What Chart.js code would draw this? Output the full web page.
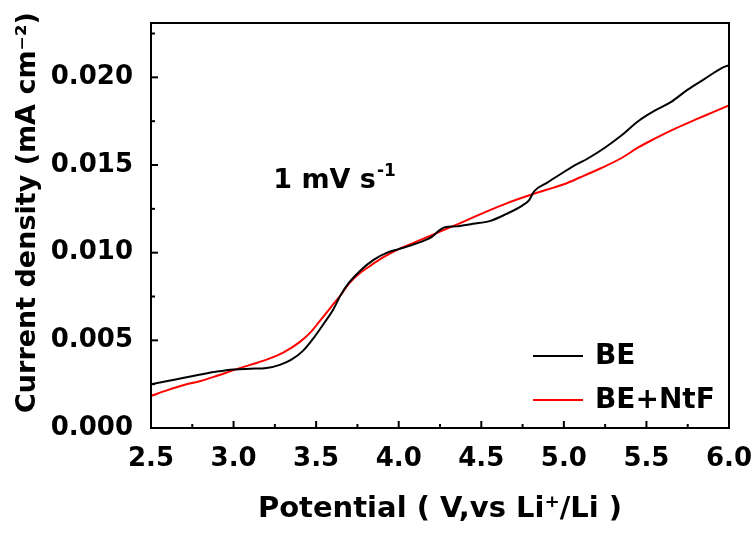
<!DOCTYPE html>
<html>
<head>
<meta charset="utf-8">
<script src="https://cdn.jsdelivr.net/npm/chart.js@4/dist/chart.umd.min.js"></script>
<style>
  html, body { margin: 0; padding: 0; background: #fff; }
  #wrap { width: 755px; height: 535px; }
</style>
</head>
<body>
<div id="wrap"><canvas id="myChart" width="755" height="535"></canvas></div>
<script>
// Data
const potentialBE = [2.5, 2.6, 2.7, 2.8, 2.9, 3.0, 3.1, 3.2, 3.28, 3.35, 3.42, 3.49, 3.55, 3.6, 3.65, 3.7, 3.77, 3.85, 3.93, 4.0, 4.1, 4.2, 4.25, 4.28, 4.35, 4.45, 4.55, 4.65, 4.75, 4.79, 4.82, 4.9, 5.0, 5.05, 5.15, 5.25, 5.35, 5.45, 5.55, 5.65, 5.75, 5.85, 5.95, 6.0];
const currentBE = [0.00249, 0.00268, 0.00287, 0.00305, 0.00322, 0.00334, 0.00338, 0.00342, 0.0036, 0.0039, 0.0044, 0.0052, 0.0060, 0.0067, 0.0076, 0.0083, 0.0090, 0.0096, 0.0100, 0.0102, 0.0105, 0.0109, 0.0113, 0.01145, 0.0115, 0.01165, 0.0118, 0.0122, 0.0127, 0.0130, 0.0135, 0.0140, 0.0146, 0.0149, 0.0154, 0.0160, 0.0167, 0.0175, 0.0181, 0.0186, 0.0193, 0.0199, 0.0205, 0.0207];

const potentialNtF = [2.5, 2.6, 2.7, 2.8, 2.9, 3.0, 3.1, 3.2, 3.3, 3.4, 3.47, 3.53, 3.59, 3.65, 3.7, 3.76, 3.82, 3.9, 4.0, 4.1, 4.2, 4.3, 4.4, 4.52, 4.65, 4.8, 4.9, 5.0, 5.1, 5.22, 5.35, 5.45, 5.55, 5.68, 5.8, 5.9, 6.0];
const currentNtF = [0.00183, 0.00216, 0.00245, 0.00268, 0.00298, 0.0033, 0.0036, 0.0039, 0.0043, 0.0049, 0.0055, 0.0062, 0.0069, 0.0076, 0.00825, 0.0088, 0.0092, 0.0097, 0.0102, 0.0106, 0.0110, 0.0114, 0.0118, 0.0123, 0.0128, 0.0133, 0.0136, 0.0139, 0.0143, 0.0148, 0.0154, 0.0160, 0.0165, 0.0171, 0.0176, 0.0180, 0.0184];

const seriesLabels = ['BE', 'BE+NtF'];
const seriesColors = ['#000000', '#ff0000'];

const xTicks = [2.5, 3.0, 3.5, 4.0, 4.5, 5.0, 5.5, 6.0];
const yTicks = [0.000, 0.005, 0.010, 0.015, 0.020];

const yTitle = 'Current density (mA cm\u207B\u00B2)';
const xTitle = 'Potential ( V,vs Li\u207A/Li )';

const FONT = 'DejaVu Sans';

function toPoints(xs, ys) {
  return xs.map(function (x, i) { return { x: x, y: ys[i] }; });
}

// Frame, inward major/minor ticks, legend, y title and rate note
const decorPlugin = {
  id: 'decor',
  afterDraw: function (chart) {
    const ctx = chart.ctx;
    const area = chart.chartArea;
    const xs = chart.scales.x;
    const ys = chart.scales.y;
    ctx.save();
    ctx.strokeStyle = '#000';
    ctx.lineWidth = 2;

    // x ticks
    for (let i = 0; i < xTicks.length; i++) {
      const px = xs.getPixelForValue(xTicks[i]);
      ctx.beginPath();
      ctx.moveTo(px, area.bottom);
      ctx.lineTo(px, area.bottom - 7);
      ctx.stroke();
      if (i < xTicks.length - 1) {
        const mx = xs.getPixelForValue((xTicks[i] + xTicks[i + 1]) / 2);
        ctx.beginPath();
        ctx.moveTo(mx, area.bottom);
        ctx.lineTo(mx, area.bottom - 4);
        ctx.stroke();
      }
    }
    // y ticks
    for (let i = 0; i < yTicks.length; i++) {
      const py = ys.getPixelForValue(yTicks[i]);
      ctx.beginPath();
      ctx.moveTo(area.left, py);
      ctx.lineTo(area.left + 7, py);
      ctx.stroke();
      const my = ys.getPixelForValue(yTicks[i] + 0.0025);
      ctx.beginPath();
      ctx.moveTo(area.left, my);
      ctx.lineTo(area.left + 4, my);
      ctx.stroke();
    }

    // frame
    ctx.strokeRect(area.left, area.top, area.right - area.left, area.bottom - area.top);

    // legend
    ctx.font = 'bold 28px ' + FONT;
    ctx.textBaseline = 'middle';
    ctx.textAlign = 'left';
    chart.data.datasets.forEach(function (ds, i) {
      const ly = area.bottom - 72 + i * 44;
      ctx.strokeStyle = ds.borderColor;
      ctx.lineWidth = 2;
      ctx.beginPath();
      ctx.moveTo(area.right - 196, ly);
      ctx.lineTo(area.right - 146, ly);
      ctx.stroke();
      ctx.fillStyle = '#000';
      ctx.fillText(ds.label, area.right - 134, ly + 1);
    });

    // y title (sits a bit above the axis middle, as in the source)
    ctx.save();
    ctx.translate(28, (area.top + area.bottom) / 2 - 13);
    ctx.rotate(-Math.PI / 2);
    ctx.textAlign = 'center';
    ctx.font = 'bold 27px ' + FONT;
    ctx.fillText(yTitle, 0, 0);
    ctx.restore();

    // scan rate note
    ctx.textBaseline = 'alphabetic';
    const nx = xs.getPixelForValue(3.24);
    const ny = ys.getPixelForValue(0.0137);
    ctx.font = 'bold 27px ' + FONT;
    ctx.fillText('1 mV s', nx, ny);
    const w = ctx.measureText('1 mV s').width;
    ctx.font = 'bold 17px ' + FONT;
    ctx.fillText('-1', nx + w + 1, ny - 12);
    ctx.restore();
  }
};

const ctx = document.getElementById('myChart').getContext('2d');

const chart = new Chart(ctx, {
  type: 'line',
  data: {
    datasets: [{
      label: seriesLabels[0],
      data: toPoints(potentialBE, currentBE),
      borderColor: seriesColors[0],
      backgroundColor: seriesColors[0],
      borderWidth: 2,
      pointRadius: 0,
      cubicInterpolationMode: 'monotone'
    },
    {
      label: seriesLabels[1],
      data: toPoints(potentialNtF, currentNtF),
      borderColor: seriesColors[1],
      backgroundColor: seriesColors[1],
      borderWidth: 2,
      pointRadius: 0,
      cubicInterpolationMode: 'monotone'
    }]
  },
  options: {
    responsive: false,
    animation: false,
    layout: { padding: { top: 23, right: 26, left: 0, bottom: 0 } },
    plugins: {
      legend: { display: false },
      tooltip: { enabled: false }
    },
    scales: {
      x: {
        type: 'linear',
        min: 2.5,
        max: 6.0,
        afterBuildTicks: function (scale) {
          scale.ticks = xTicks.map(function (v) { return { value: v }; });
        },
        afterFit: function (scale) {
          scale.height = 107;
          scale.paddingLeft = 0;
          scale.paddingRight = 0;
        },
        grid: { display: false },
        border: { display: false },
        ticks: {
          color: '#000',
          padding: 8,
          maxRotation: 0,
          font: { family: FONT, size: 26, weight: 'bold' },
          callback: function (v) { return Number(v).toFixed(1); }
        },
        title: {
          display: true,
          text: xTitle,
          color: '#000',
          padding: { top: 0, bottom: 8 },
          font: { family: FONT, size: 29, weight: 'bold' }
        }
      },
      y: {
        type: 'linear',
        min: 0,
        max: 0.0231,
        afterBuildTicks: function (scale) {
          scale.ticks = yTicks.map(function (v) { return { value: v }; });
        },
        afterFit: function (scale) {
          scale.width = 151;
          scale.paddingTop = 0;
          scale.paddingBottom = 0;
        },
        grid: { display: false },
        border: { display: false },
        ticks: {
          color: '#000',
          padding: 10,
          font: { family: FONT, size: 26, weight: 'bold' },
          callback: function (v) { return Number(v).toFixed(3); }
        },
        title: { display: false, text: yTitle }
      }
    }
  },
  plugins: [decorPlugin]
});
</script>
</body>
</html>
